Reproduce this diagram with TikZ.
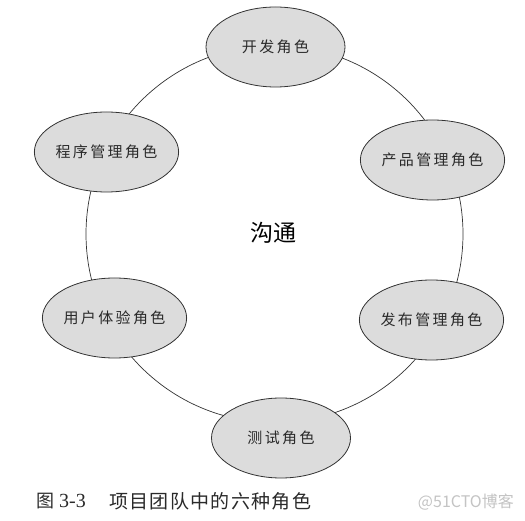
\documentclass[tikz,border=0pt]{standalone}
\usepackage{fontspec}
\setmainfont{Liberation Serif}
\newfontfamily\cjk{Noto Sans CJK SC}
\newfontfamily\cjkspaced[LetterSpace=16]{Noto Sans CJK SC}
\newfontfamily\cjkcap[LetterSpace=7]{Noto Sans CJK SC}
\usetikzlibrary{shapes.geometric}
\definecolor{rolefill}{HTML}{DCDCDC}
\definecolor{lineclr}{HTML}{333333}
\definecolor{txtclr}{HTML}{2A2A2A}
\definecolor{wmclr}{HTML}{C4C4C4}
\tikzset{
  role/.style={ellipse, draw=lineclr, line width=0.8pt, fill=rolefill,
    minimum width=139pt, minimum height=80pt, inner sep=0pt,
    font=\cjkspaced\fontsize{15}{16}\selectfont, text=txtclr},
  ring/.style={draw=lineclr, line width=0.7pt},
}
\begin{document}
\begin{tikzpicture}[x=1pt,y=-1pt]
\useasboundingbox (0,0) rectangle (525,521);
\fill[white] (0,0) rectangle (525,521);
\coordinate (c) at (274.5,234);
\draw[ring] (c) circle[radius=188.5];
\node[font=\cjk\fontsize{23}{24}\selectfont, text=black] (talk) at (273.5,233) {沟通};
\node[role] (dev) at (275.5,47) {开发角色};
\node[role] (prog) at (106.5,152) {程序管理角色};
\node[role] (prod) at (432.5,160) {产品管理角色};
\node[role] (ux) at (114.5,318) {用户体验角色};
\node[role] (rel) at (431.5,320) {发布管理角色};
\node[role] (test) at (281,438) {测试角色};
\node[anchor=west, inner sep=0pt, font=\cjk\fontsize{18}{19}\selectfont, text=txtclr] (fig) at (36,501) {图};
\node[anchor=west, inner sep=0pt, font=\fontsize{20}{21}\selectfont, text=txtclr] (num) at (59,501) {3-3};
\node[anchor=west, inner sep=0pt, font=\cjkcap\fontsize{19}{20}\selectfont, text=txtclr] (cap) at (109,501) {项目团队中的六种角色};
\node[anchor=east, inner sep=0pt, font=\cjk\fontsize{16}{17}\selectfont, text=wmclr] (wm) at (514,502) {@51CTO博客};
\end{tikzpicture}
\end{document}
